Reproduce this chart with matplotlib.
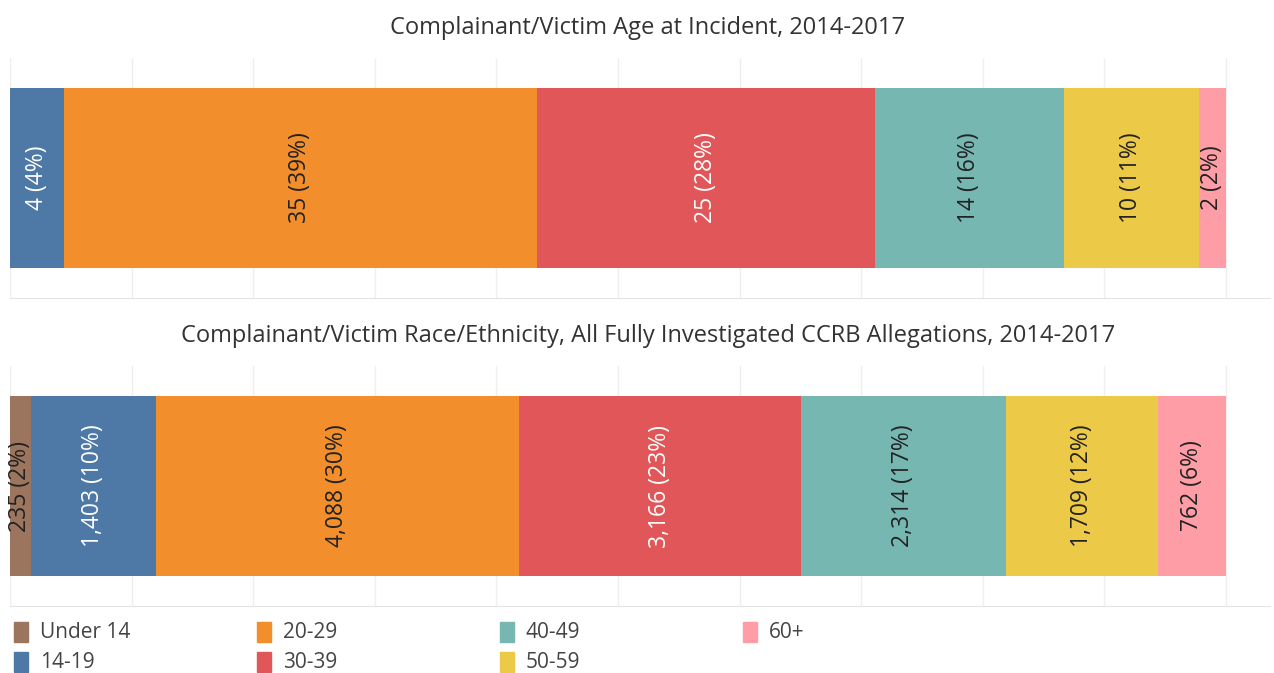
import matplotlib
matplotlib.use("Agg")
import matplotlib.pyplot as plt
from matplotlib.patches import Rectangle

plt.rcParams['font.family'] = ['Open Sans', 'DejaVu Sans']

categories = ['Under 14', '14-19', '20-29', '30-39', '40-49', '50-59', '60+']
colors = ['#9c755f', '#4e79a7', '#f28e2b', '#e15759', '#76b7b2', '#edc948', '#ff9da7']
light_text = ['14-19', '30-39']

age_values = [0, 4, 35, 25, 14, 10, 2]
race_values = [235, 1403, 4088, 3166, 2314, 1709, 762]

title_top = 'Complainant/Victim Age at Incident, 2014-2017'
title_bottom = 'Complainant/Victim Race/Ethnicity, All Fully Investigated CCRB Allegations, 2014-2017'

W, H = 1274, 673
fig = plt.figure(figsize=(W / 100, H / 100), dpi=100)


def px_axes(x0, y0, x1, y1):
    return fig.add_axes([x0 / W, 1 - y1 / H, (x1 - x0) / W, (y1 - y0) / H])


def stacked_bar(ax, values):
    total = sum(values)
    left = 0
    for cat, v, c in zip(categories, values, colors):
        if v == 0:
            continue
        w = v / total
        ax.barh(0, w, left=left, height=0.75, color=c, edgecolor='none')
        tc = 'white' if cat in light_text else '#222222'
        ax.text(left + w / 2, 0, f"{v:,} ({v / total:.0%})", rotation=90,
                ha='center', va='center', fontsize=16.5, color=tc)
        left += w
    ax.set_xlim(0, 1260 / 1216)
    ax.set_ylim(-0.5, 0.5)
    ax.set_xticks([i / 10 for i in range(11)])
    ax.set_yticks([])
    ax.tick_params(axis='x', length=0, labelbottom=False)
    ax.grid(axis='x', color='#efefef', linewidth=1)
    ax.set_axisbelow(True)
    for s in ['top', 'left', 'right']:
        ax.spines[s].set_visible(False)
    ax.spines['bottom'].set_color('#e4e4e4')


ax1 = px_axes(10, 58, 1270, 298)
stacked_bar(ax1, age_values)
ax2 = px_axes(10, 366, 1270, 606)
stacked_bar(ax2, race_values)

fig.text(648 / W, 1 - 28 / H, title_top, ha='center', va='center', fontsize=17, color='#333333')
fig.text(648 / W, 1 - 336 / H, title_bottom, ha='center', va='center', fontsize=17, color='#333333')

# legend, filled column by column
for i, (cat, c) in enumerate(zip(categories, colors)):
    col, row = i // 2, i % 2
    x = 14 + col * 243
    y = 632 + row * 30
    fig.patches.append(Rectangle((x / W, 1 - (y + 10) / H), 14 / W, 20 / H,
                                 transform=fig.transFigure, color=c, figure=fig))
    fig.text((x + 26) / W, 1 - y / H, cat, ha='left', va='center', fontsize=15, color='#444444')

fig.savefig('out.png', dpi=100)
